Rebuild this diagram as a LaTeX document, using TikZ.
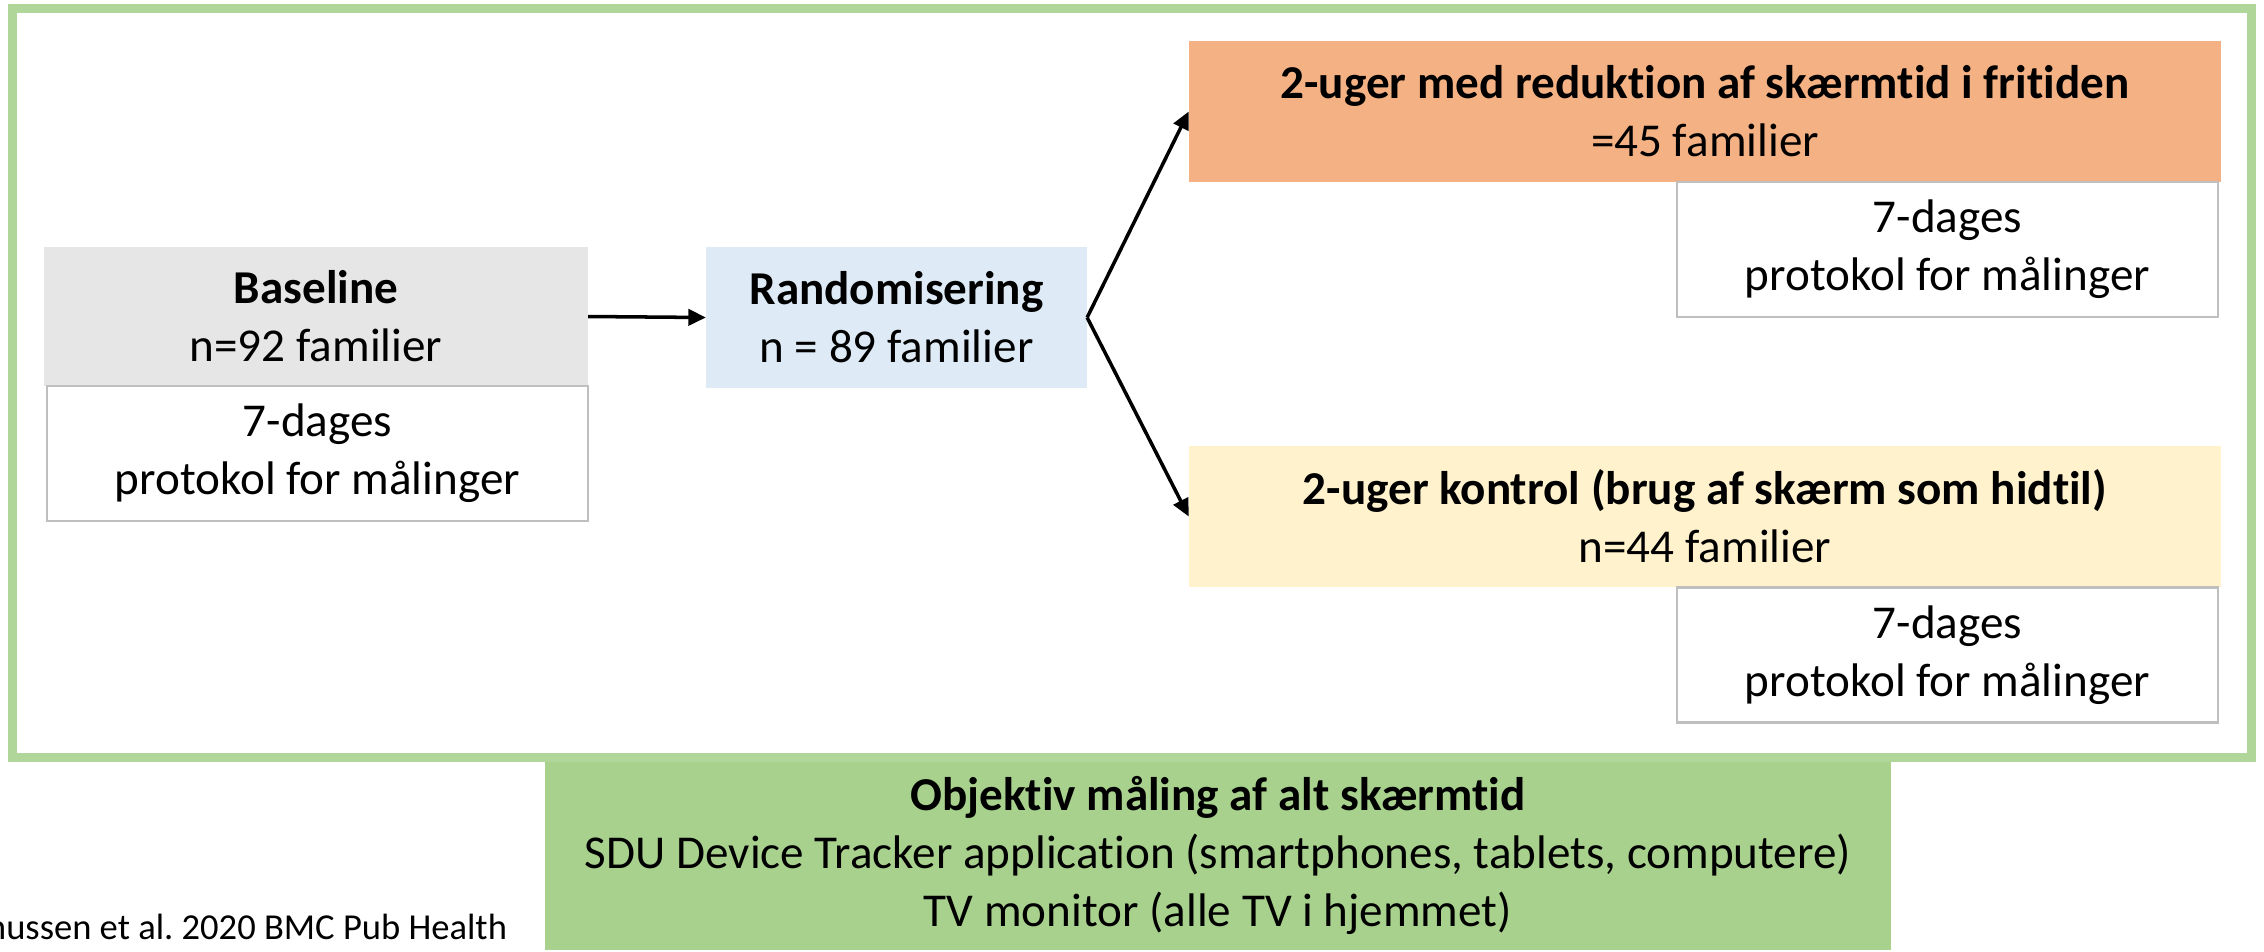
\documentclass[tikz,border=0pt]{standalone}
\usepackage{fontspec}
\setmainfont{Carlito}[Ligatures=NoCommon]
\usetikzlibrary{arrows.meta}
\definecolor{framegreen}{HTML}{B0D69A}
\definecolor{boxgreen}{HTML}{A9D18E}
\definecolor{basegray}{HTML}{E7E6E6}
\definecolor{randblue}{HTML}{DEEBF7}
\definecolor{redorange}{HTML}{F4B183}
\definecolor{ctrlyellow}{HTML}{FFF2CC}
\definecolor{protgray}{HTML}{BFBFBF}

\begin{document}
\begin{tikzpicture}[x=0.01cm, y=-0.01cm,
  every node/.style={font=\fontsize{13.4}{16.5}\selectfont, align=center, inner sep=0pt, outer sep=0pt},
  stage/.style={minimum height=1.41cm},
  protbox/.style={draw=protgray, line width=0.6pt, fill=white, minimum width=5.41cm, minimum height=1.35cm},
  flow/.style={line width=1pt, -{Triangle[length=5pt, width=4.6pt]}}]
\useasboundingbox (0,0) rectangle (2264,951);
\clip (0,0) rectangle (2264,951);

% Bottom box: measurement
\node[fill=boxgreen, minimum width=13.46cm, minimum height=1.9cm] (obj) at (1218,855)
  {\textbf{Objektiv måling af alt skærmtid}\\SDU Device Tracker application (smartphones, tablets, computere)\\TV monitor (alle TV i hjemmet)};

% Outer frame
\draw[framegreen, line width=0.09cm] (12.5,8.5) rectangle (2251,757.5);

% Baseline
\node[stage, fill=basegray, minimum width=5.44cm, minimum height=1.39cm] (base) at (316,316.5)
  {\textbf{Baseline}\\n=92 familier};
\node[protbox] (baseprot) at (317.5,453.5) {7-dages\\protokol for målinger};

% Randomisation
\node[stage, fill=randblue, minimum width=3.81cm] (rand) at (896.5,317.5)
  {\textbf{Randomisering}\\n = 89 familier};

% Intervention arm
\node[stage, fill=redorange, minimum width=10.32cm] (red) at (1705,111.5)
  {\textbf{2-uger med reduktion af skærmtid i fritiden}\\=45 familier};
\node[protbox] (redprot) at (1947.5,249.5) {7-dages\\protokol for målinger};

% Control arm
\node[stage, fill=ctrlyellow, minimum width=10.32cm] (ctrl) at (1705,516.5)
  {\textbf{2-uger kontrol (brug af skærm som hidtil)}\\n=44 familier};
\node[protbox] (ctrlprot) at (1947.5,655) {7-dages\\protokol for målinger};

% Arrows
\draw[flow] (base.east) -- (rand.west);
\draw[flow] (rand.east) -- (red.west);
\draw[flow] (rand.east) -- (ctrl.west);

% Reference
\node[anchor=base east, font=\fontsize{10.4}{12.5}\selectfont] (cite) at (507,939)
  {Rasmussen et al.\ 2020 BMC Pub Health};
\end{tikzpicture}
\end{document}
